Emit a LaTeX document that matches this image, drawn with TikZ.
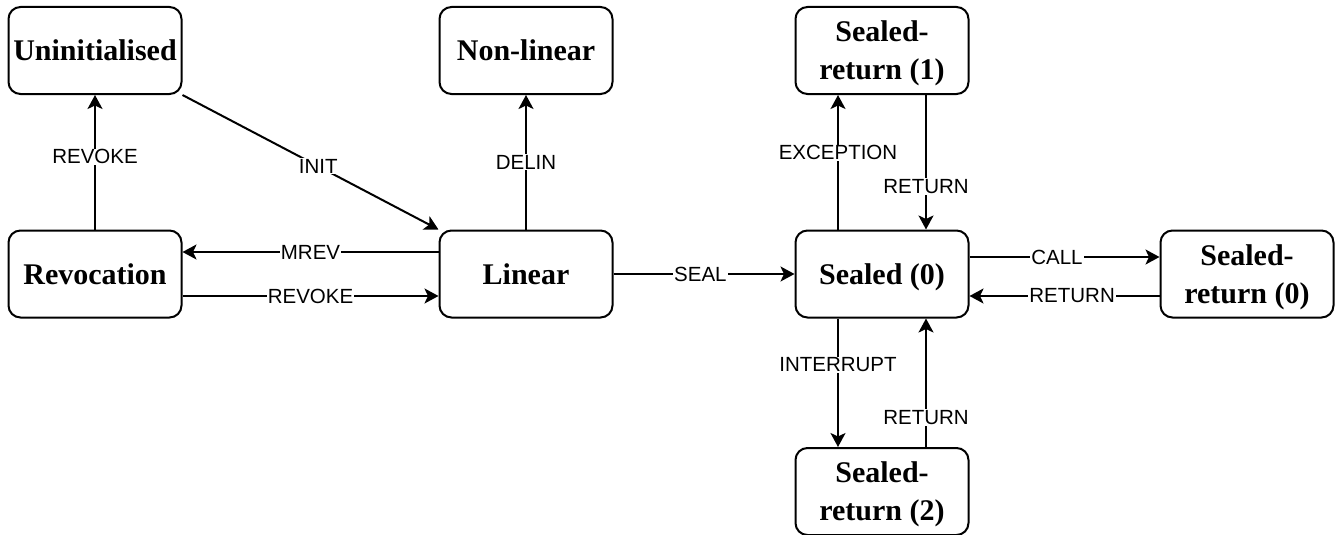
\documentclass[tikz,border=0pt]{standalone}
\usepackage{fontspec}
\setmainfont{Liberation Serif}
\newfontfamily\labelfont{Liberation Sans}
\usetikzlibrary{arrows.meta}
\begin{document}
\begin{tikzpicture}[x=1pt,y=-1pt,
  state/.style={draw, line width=2pt, rounded corners=12pt,
    minimum width=173pt, minimum height=87pt, align=center, inner sep=0pt,
    text depth=-3pt, font=\fontsize{30}{38}\selectfont\bfseries},
  twoline/.style={text depth=-6pt},
  trans/.style={line width=2pt, -{Stealth[length=14pt,width=15pt,inset=3.5pt]}},
  lbl/.style={fill=white, inner sep=1pt,
    font=\labelfont\fontsize{20.5}{24}\selectfont}]
\useasboundingbox (0,0) rectangle (1338,535);

% states
\node[state] (uninit) at (95,50.5)   {Uninitialised};
\node[state] (nonlin) at (526,50.5)  {Non-linear};
\node[state,twoline] (sr1) at (882,50.5) {Sealed-\\return (1)};
\node[state] (revoc)  at (95,274)    {Revocation};
\node[state] (linear) at (526,274)   {Linear};
\node[state] (sealed) at (882,274)   {Sealed (0)};
\node[state,twoline] (sr0) at (1247,274) {Sealed-\\return (0)};
\node[state,twoline] (sr2) at (882,491.5) {Sealed-\\return (2)};

% transitions
\draw[trans] (revoc.north) -- node[lbl,pos=0.54]{REVOKE} (uninit.south);
\draw[trans] (uninit.south east) -- node[lbl,pos=0.53]{INIT} (linear.north west);
\draw[trans] (linear.north) -- node[lbl,pos=0.5]{DELIN} (nonlin.south);
\draw[trans] ([yshift=22pt]linear.west) -- node[lbl]{MREV} ([yshift=22pt]revoc.east);
\draw[trans] ([yshift=-22pt]revoc.east) -- node[lbl]{REVOKE} ([yshift=-22pt]linear.west);
\draw[trans] (linear.east) -- node[lbl,pos=0.48]{SEAL} (sealed.west);
\draw[trans] ([xshift=-44pt]sealed.north) -- node[lbl,pos=0.57]{EXCEPTION} ([xshift=-44pt]sr1.south);
\draw[trans] ([xshift=44pt]sr1.south) -- node[lbl,pos=0.68]{RETURN} ([xshift=44pt]sealed.north);
\draw[trans] ([yshift=17pt]sealed.east) -- node[lbl,pos=0.46]{CALL} ([yshift=17pt]sr0.west);
\draw[trans] ([yshift=-22pt]sr0.west) -- node[lbl,pos=0.46]{RETURN} ([yshift=-22pt]sealed.east);
\draw[trans] ([xshift=-44pt]sealed.south) -- node[lbl,pos=0.36]{INTERRUPT} ([xshift=-44pt]sr2.north);
\draw[trans] ([xshift=44pt]sr2.north) -- node[lbl,pos=0.23]{RETURN} ([xshift=44pt]sealed.south);
\end{tikzpicture}
\end{document}
